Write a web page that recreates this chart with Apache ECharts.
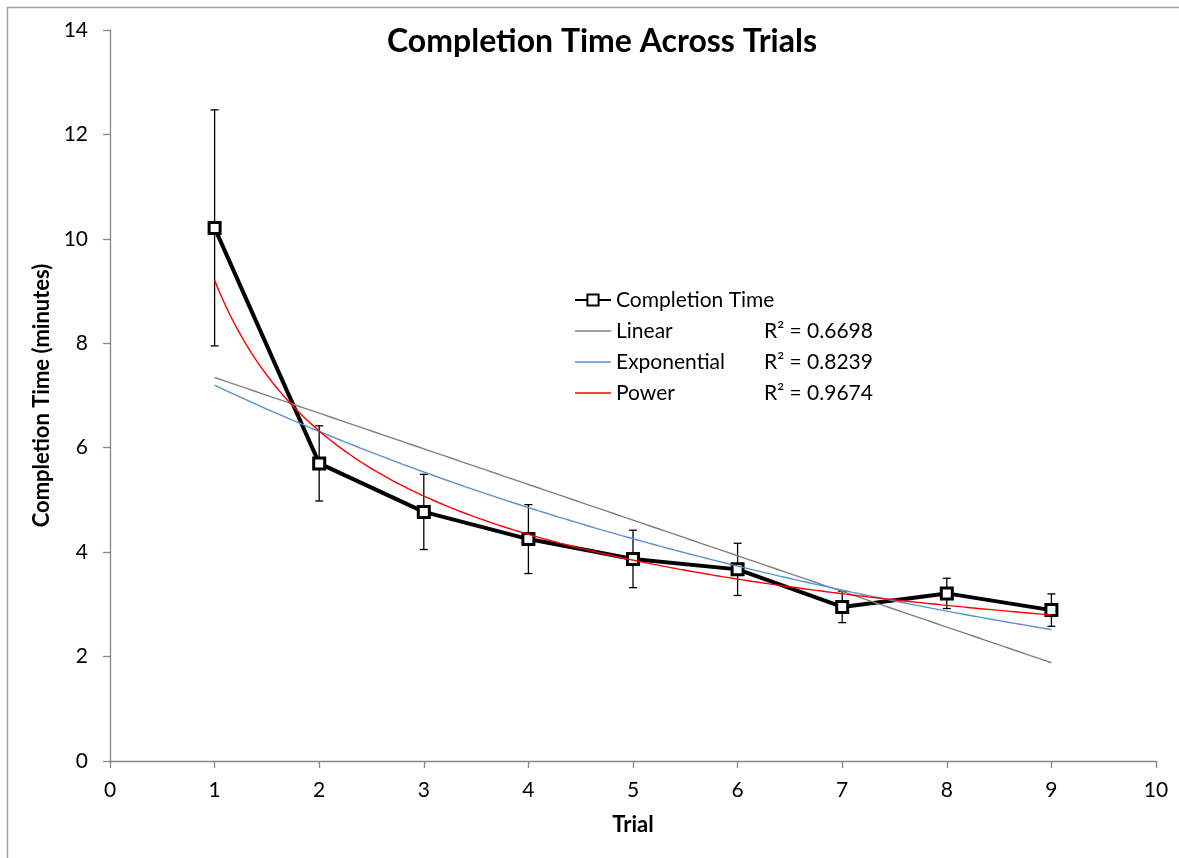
<!DOCTYPE html>
<html>
<head>
<meta charset="utf-8">
<script src="https://cdn.jsdelivr.net/npm/echarts@6/dist/echarts.min.js"></script>
<style>
  html, body { margin: 0; padding: 0; background: #fff; }
  #chart { width: 1179px; height: 858px; }
</style>
</head>
<body>
<div id="chart"></div>
<script>
// ---- Data ----
const trials = [1, 2, 3, 4, 5, 6, 7, 8, 9];
const completionTime = [10.21, 5.70, 4.77, 4.25, 3.87, 3.67, 2.95, 3.21, 2.89];
const errorHalfWidth = [2.26, 0.72, 0.72, 0.66, 0.55, 0.50, 0.30, 0.29, 0.31];
const seriesNames = ['Completion Time', 'Linear', 'Exponential', 'Power'];
const rSquaredLabels = { 'Linear': 'R² = 0.6698', 'Exponential': 'R² = 0.8239', 'Power': 'R² = 0.9674' };
const titleText = 'Completion Time Across Trials';
const xAxisName = 'Trial';
const yAxisName = 'Completion Time (minutes)';

// ---- Trendlines: least-squares fits of the data (as in the spreadsheet) ----
function lsq(xs, ys) {
  const n = xs.length;
  const mx = xs.reduce((a, b) => a + b, 0) / n;
  const my = ys.reduce((a, b) => a + b, 0) / n;
  let sxy = 0, sxx = 0;
  for (let i = 0; i < n; i++) { sxy += (xs[i] - mx) * (ys[i] - my); sxx += (xs[i] - mx) * (xs[i] - mx); }
  const m = sxy / sxx;
  return { m: m, c: my - m * mx };
}
const lin = lsq(trials, completionTime);
const expF = lsq(trials, completionTime.map(Math.log));
const powF = lsq(trials.map(Math.log), completionTime.map(Math.log));
const fitFns = {
  'Linear': x => lin.m * x + lin.c,
  'Exponential': x => Math.exp(expF.c) * Math.exp(expF.m * x),
  'Power': x => Math.exp(powF.c) * Math.pow(x, powF.m)
};
function curve(fn) {
  const pts = [];
  const x0 = trials[0], x1 = trials[trials.length - 1];
  const steps = 160;
  for (let i = 0; i <= steps; i++) { const x = x0 + (x1 - x0) * i / steps; pts.push([x, fn(x)]); }
  return pts;
}

const FONT = 'Lato, "Open Sans", sans-serif';
const axisGray = '#868686';
const lineIcon = 'path://M0,0 L70,0 L70,3 L0,3 Z';

const chart = echarts.init(document.getElementById('chart'), null, { renderer: 'canvas' });
chart.setOption({
  animation: false,
  backgroundColor: '#fff',
  textStyle: { fontFamily: FONT, color: '#000' },
  title: {
    text: titleText,
    left: 597, top: 21, textAlign: 'center',
    textStyle: { fontFamily: FONT, fontSize: 32, fontWeight: 'bold', color: '#000' }
  },
  graphic: [{
    type: 'rect', silent: true, z: -1,
    shape: { x: 7.5, y: 7.5, width: 1300, height: 1000 },
    style: { fill: 'none', stroke: '#a0a0a0', lineWidth: 1.5 }
  }],
  grid: { left: 110, right: 23, top: 30, bottom: 97, containLabel: false },
  legend: {
    data: [
      { name: seriesNames[0] },
      { name: seriesNames[1], icon: lineIcon },
      { name: seriesNames[2], icon: lineIcon },
      { name: seriesNames[3], icon: lineIcon }
    ],
    orient: 'vertical',
    left: 569, top: 283,
    itemWidth: 36, itemHeight: 14, itemGap: 7,
    selectedMode: false,
    formatter: function (name) {
      const r = rSquaredLabels[name];
      return r ? '{n|' + name + '}{r|' + r + '}' : '{n|' + name + '}';
    },
    textStyle: {
      fontFamily: FONT, fontSize: 21, color: '#000',
      rich: {
        n: { fontFamily: FONT, fontSize: 21, color: '#000', width: 148, height: 24, lineHeight: 24 },
        r: { fontFamily: FONT, fontSize: 21, color: '#000', height: 24, lineHeight: 28 }
      }
    }
  },
  xAxis: {
    type: 'value', min: 0, max: 10, interval: 1,
    name: xAxisName, nameLocation: 'middle', nameGap: 53,
    nameTextStyle: { fontFamily: FONT, fontSize: 22, fontWeight: 'bold', color: '#000' },
    axisLine: { onZero: false, lineStyle: { color: axisGray, width: 1.3 } },
    axisTick: { show: true, length: 7, lineStyle: { color: axisGray, width: 1.3 } },
    axisLabel: { margin: 19, fontFamily: FONT, fontSize: 21, color: '#000' },
    splitLine: { show: false }
  },
  yAxis: {
    type: 'value', min: 0, max: 14, interval: 2,
    name: yAxisName, nameLocation: 'middle', nameGap: 55, nameRotate: 90,
    nameTextStyle: { fontFamily: FONT, fontSize: 22, fontWeight: 'bold', color: '#000' },
    axisLine: { show: true, onZero: false, lineStyle: { color: axisGray, width: 1.3 } },
    axisTick: { show: true, length: 7, lineStyle: { color: axisGray, width: 1.3 } },
    axisLabel: { margin: 22, fontFamily: FONT, fontSize: 21, color: '#000' },
    splitLine: { show: false }
  },
  series: [
    {
      name: 'errorbars', type: 'custom', z: 2, silent: true,
      data: trials.map((t, i) => [t, completionTime[i] - errorHalfWidth[i], completionTime[i] + errorHalfWidth[i]]),
      encode: { x: 0, y: [1, 2] },
      renderItem: function (params, api) {
        const x = api.value(0);
        const lo = api.coord([x, api.value(1)]);
        const hi = api.coord([x, api.value(2)]);
        const cap = 4;
        const st = { stroke: '#000', lineWidth: 1.3 };
        return {
          type: 'group',
          children: [
            { type: 'line', shape: { x1: lo[0], y1: lo[1], x2: hi[0], y2: hi[1] }, style: st },
            { type: 'line', shape: { x1: hi[0] - cap, y1: hi[1], x2: hi[0] + cap, y2: hi[1] }, style: st },
            { type: 'line', shape: { x1: lo[0] - cap, y1: lo[1], x2: lo[0] + cap, y2: lo[1] }, style: st }
          ]
        };
      }
    },
    {
      name: 'Completion Time', type: 'line', z: 3,
      data: trials.map((t, i) => [t, completionTime[i]]),
      symbol: 'rect', symbolSize: 11,
      lineStyle: { color: '#000', width: 4 },
      itemStyle: { color: '#fff', borderColor: '#000', borderWidth: 3 },
      emphasis: { disabled: true }
    },
    {
      name: 'Linear', type: 'line', z: 4, showSymbol: false, symbol: 'none',
      data: curve(fitFns['Linear']),
      lineStyle: { color: '#808080', width: 1.4 },
      itemStyle: { color: '#808080' },
      emphasis: { disabled: true }
    },
    {
      name: 'Exponential', type: 'line', z: 4, showSymbol: false, symbol: 'none',
      data: curve(fitFns['Exponential']),
      lineStyle: { color: '#5b8fd4', width: 1.4 },
      itemStyle: { color: '#5b8fd4' },
      emphasis: { disabled: true }
    },
    {
      name: 'Power', type: 'line', z: 4, showSymbol: false, symbol: 'none',
      data: curve(fitFns['Power']),
      lineStyle: { color: '#ff0000', width: 1.4 },
      itemStyle: { color: '#ff0000' },
      emphasis: { disabled: true }
    }
  ]
});
</script>
</body>
</html>
